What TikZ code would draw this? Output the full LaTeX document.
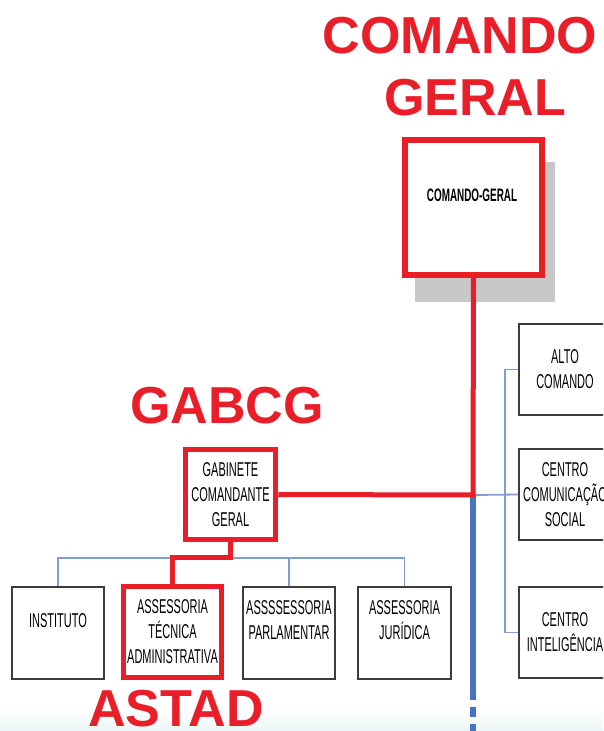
\documentclass[tikz,border=0pt]{standalone}
\usepackage{fontspec}
\setmainfont{Liberation Sans}
\newfontfamily\narrowfont[FakeStretch=0.55]{Liberation Sans}
\begin{document}
\definecolor{orgred}{RGB}{234,30,40}
\definecolor{orgblue}{RGB}{70,116,196}
\definecolor{linkblue}{RGB}{130,158,205}
\definecolor{boxline}{RGB}{60,60,60}
\definecolor{shadowgray}{RGB}{200,200,200}
\begin{tikzpicture}[x=1pt,y=-1pt,
  unit/.style={draw=boxline, line width=1.6pt, fill=white, inner sep=0pt,
    align=center, font=\narrowfont\fontsize{20}{25}\selectfont},
  redunit/.style={unit, draw=orgred, line width=5.5pt},
  title/.style={text=orgred, font=\bfseries\fontsize{52}{52}\selectfont, anchor=base, inner sep=0pt},
  redlink/.style={draw=orgred, line width=5pt, line join=miter},
  thinlink/.style={draw=linkblue, line width=1.8pt},
  mainline/.style={draw=orgblue, line width=5.5pt}]
\useasboundingbox (0,0) rectangle (603,731);
\clip (0,0) rectangle (603,731);
\fill[white] (0,0) rectangle (603,731);
\shade[top color=white, bottom color={rgb,255:red,236;green,246;blue,246}] (0,708) rectangle (603,731);

% headings
\node[title] (tcg) at (460,53) {COMANDO};
\node[title] (tcg2) at (475,115) {GERAL};
\node[title] (tgab) at (227,423) {GABCG};
\node[title] (tast) at (176,726) {ASTAD};

% command box with its drop shadow
\fill[shadowgray] (415,162) rectangle (555,302);
\node[redunit, minimum width=137pt, minimum height=135pt] (cg) at (473.5,207.5) {};
\node[font=\narrowfont\bfseries\fontsize{18}{18}\selectfont, inner sep=0pt] (cgtext) at (472,195) {COMANDO-GERAL};

% right column
\node[unit, minimum width=92pt, minimum height=91pt] (alto) at (565,369.5) {ALTO\\COMANDO};
\node[unit, minimum width=92pt, minimum height=91pt] (ccs) at (565,494.5) {CENTRO\\COMUNICAÇÃO\\SOCIAL};
\node[unit, minimum width=92pt, minimum height=91pt] (cint) at (565,632.5) {CENTRO\\INTELIGÊNCIA};

% cabinet and its advisory units
\node[redunit, minimum width=90pt, minimum height=90pt] (gab) at (230.5,494.5) {GABINETE\\COMANDANTE\\GERAL};
\node[unit, minimum width=92pt, minimum height=92pt] (inst) at (58,633) {INSTITUTO\\\vphantom{X}};
\node[redunit, minimum width=98pt, minimum height=91pt] (ast) at (172.5,632) {ASSESSORIA\\TÉCNICA\\ADMINISTRATIVA};
\node[unit, minimum width=92pt, minimum height=92pt] (parl) at (289,633) {ASSSSESSORIA\\PARLAMENTAR\\\vphantom{X}};
\node[unit, minimum width=93pt, minimum height=92pt] (jur) at (404.5,633) {ASSESSORIA\\JURÍDICA\\\vphantom{X}};

% junctions
\coordinate (j1) at (473,495);
\coordinate (jend) at (473,690);
\coordinate (jbot) at (473,735);
\coordinate (busl) at (58,558);
\coordinate (busr) at (404.5,558);
\coordinate (busm) at (289,558);
\coordinate (rbus) at (505,495);

% thin connectors
\draw[thinlink] (inst.north) -- (busl) -- (busr) -- (jur.north);
\draw[thinlink] (parl.north) -- (busm);
\draw[thinlink] (alto.west) -| (rbus) |- (cint.west);
\draw[thinlink] (j1) -- (ccs.west);

% main vertical line
\draw[mainline] (j1) -- (jend);
\draw[mainline, dash pattern=on 10pt off 7pt] (jend) -- (jbot);

% highlighted chain of command
\draw[redlink] (cg.south) -- (j1) -- (gab.east);
\draw[redlink] (gab.south) -- (230.5,557) -| (ast.north);
\end{tikzpicture}
\end{document}
